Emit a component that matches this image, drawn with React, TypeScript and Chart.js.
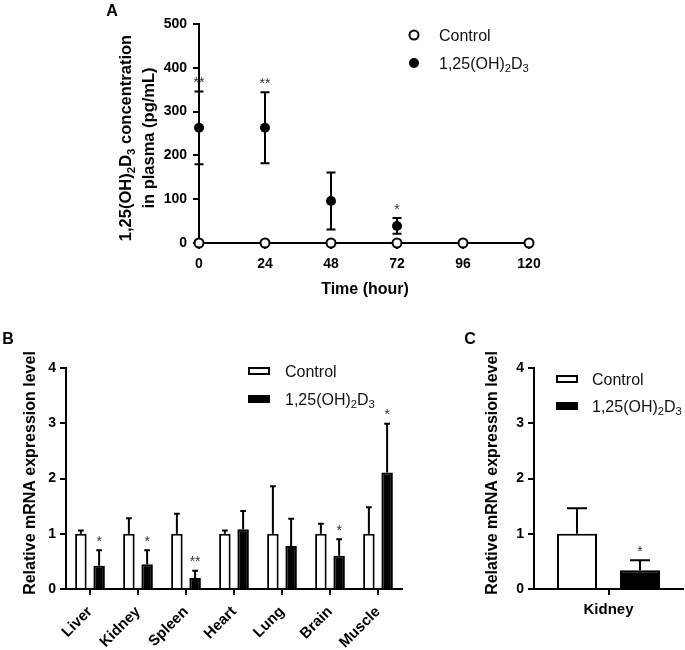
import React, { useEffect, useRef } from 'react';
import { Chart, registerables } from 'chart.js';

Chart.register(...registerables);

const FONT = '"Liberation Sans", Arial, Helvetica, sans-serif';
const INK = '#000000';

// ---------- Panel A: plasma concentration ----------
const timeHours = [0, 24, 48, 72, 96, 120];
const controlConc = [0, 0, 0, 0, 0, 0];
const treatedHours = [0, 24, 48, 72];
const treatedConc = [263, 263, 96, 39];
const treatedConcSD = [83, 81, 65, 18];
const treatedConcSig = ['**', '**', '', '*'];
const concTitle = ['1,25(OH)₂D₃ concentration', 'in plasma (pg/mL)'];
const timeTitle = 'Time (hour)';

const seriesControl = 'Control';
const seriesTreated = '1,25(OH)₂D₃';

// ---------- Panel B: organs ----------
const organs = ['Liver', 'Kidney', 'Spleen', 'Heart', 'Lung', 'Brain', 'Muscle'];
const organControl = [1, 1, 1, 1, 1, 1, 1];
const organControlErr = [0.06, 0.28, 0.36, 0.06, 0.86, 0.18, 0.48];
const organTreated = [0.42, 0.45, 0.2, 1.08, 0.78, 0.6, 2.11];
const organTreatedErr = [0.28, 0.25, 0.13, 0.33, 0.49, 0.3, 0.88];
const organSig = ['*', '*', '**', '', '', '*', '*'];

// ---------- Panel C: kidney ----------
const kidneyLabels = ['Kidney'];
const kidneyControl = [1.0];
const kidneyControlErr = [0.46];
const kidneyTreated = [0.34];
const kidneyTreatedErr = [0.18];
const kidneySig = ['*'];

const mrnaTitle = 'Relative mRNA expression level';

// ---------- rich text helpers ----------
const SUB_MAP: Record<string, string> = {
  '₀': '0', '₁': '1', '₂': '2', '₃': '3', '₄': '4', '₅': '5', '₆': '6', '₇': '7', '₈': '8', '₉': '9',
};
type Run = { t: string; sub: boolean };
function toRuns(text: string): Run[] {
  const out: Run[] = [];
  for (const ch of text) {
    const sub = ch in SUB_MAP;
    const c = sub ? SUB_MAP[ch] : ch;
    const last = out[out.length - 1];
    if (last && last.sub === sub) last.t += c;
    else out.push({ t: c, sub });
  }
  return out;
}
const fontStr = (size: number, weight: string) => `${weight} ${size}px ${FONT}`;
function drawRich(
  ctx: CanvasRenderingContext2D, text: string, x: number, y: number,
  size: number, weight: string, align: 'left' | 'center' | 'right', color: string,
) {
  const runs = toRuns(text);
  const subSize = size * 0.7;
  let total = 0;
  const widths = runs.map((r) => {
    ctx.font = fontStr(r.sub ? subSize : size, weight);
    const w = ctx.measureText(r.t).width;
    total += w;
    return w;
  });
  let cx = align === 'left' ? x : align === 'center' ? x - total / 2 : x - total;
  const base = y + size * 0.36;
  ctx.fillStyle = color;
  ctx.textAlign = 'left';
  ctx.textBaseline = 'alphabetic';
  runs.forEach((r, i) => {
    ctx.font = fontStr(r.sub ? subSize : size, weight);
    ctx.fillText(r.t, cx, r.sub ? base + size * 0.22 : base);
    cx += widths[i];
  });
}

// ---------- plugins ----------
type TextSpec = { text: string; x: number; y: number; size: number; weight: string; rotate?: boolean };
function textPlugin(specs: TextSpec[]) {
  return {
    id: 'panelTexts',
    afterDraw(chart: any) {
      const ctx: CanvasRenderingContext2D = chart.ctx;
      ctx.save();
      specs.forEach((s) => {
        if (s.rotate) {
          ctx.save();
          ctx.translate(s.x, s.y);
          ctx.rotate(-Math.PI / 2);
          drawRich(ctx, s.text, 0, 0, s.size, s.weight, 'center', INK);
          ctx.restore();
        } else {
          drawRich(ctx, s.text, s.x, s.y, s.size, s.weight, 'center', INK);
        }
      });
      ctx.restore();
    },
  };
}

type LegendSpec = { dataset: number; marker: 'openCircle' | 'dot' | 'openBox' | 'solidBox'; x: number; y: number; textX: number };
function legendPlugin(items: LegendSpec[], size: number) {
  return {
    id: 'customLegend',
    afterDraw(chart: any) {
      const ctx: CanvasRenderingContext2D = chart.ctx;
      ctx.save();
      items.forEach((it) => {
        const label = chart.data.datasets[it.dataset].label as string;
        ctx.lineWidth = 2;
        ctx.strokeStyle = INK;
        if (it.marker === 'openCircle') {
          ctx.beginPath();
          ctx.arc(it.x, it.y, 4.5, 0, Math.PI * 2);
          ctx.fillStyle = '#fff';
          ctx.fill();
          ctx.stroke();
        } else if (it.marker === 'dot') {
          ctx.beginPath();
          ctx.arc(it.x, it.y, 5, 0, Math.PI * 2);
          ctx.fillStyle = INK;
          ctx.fill();
        } else if (it.marker === 'openBox') {
          ctx.fillStyle = '#fff';
          ctx.fillRect(it.x - 10, it.y - 3, 20, 6);
          ctx.strokeRect(it.x - 10, it.y - 3, 20, 6);
        } else {
          ctx.fillStyle = INK;
          ctx.fillRect(it.x - 11, it.y - 4, 22, 8);
        }
        drawRich(ctx, label, it.textX, it.y, size, 'normal', 'left', '#111');
      });
      ctx.restore();
    },
  };
}

type ErrSpec = { dataset: number; err: number[]; both: boolean; cap?: number };
function errorBarPlugin(layer: 'before' | 'after', specs: ErrSpec[]) {
  const draw = (chart: any) => {
    const ctx: CanvasRenderingContext2D = chart.ctx;
    const ys = chart.scales.y;
    ctx.save();
    ctx.strokeStyle = INK;
    ctx.lineWidth = 2;
    specs.forEach((s) => {
      const meta = chart.getDatasetMeta(s.dataset);
      const data = chart.data.datasets[s.dataset].data;
      meta.data.forEach((el: any, j: number) => {
        const e = s.err[j];
        if (!e) return;
        const v = data[j];
        const val = typeof v === 'number' ? v : v.y;
        const yT = ys.getPixelForValue(val + e);
        const yB = ys.getPixelForValue(s.both ? val - e : val);
        const half = (s.cap ?? el.width / 2) / 2;
        ctx.beginPath();
        ctx.moveTo(el.x, yB);
        ctx.lineTo(el.x, yT);
        ctx.moveTo(el.x - half, yT);
        ctx.lineTo(el.x + half, yT);
        if (s.both) {
          ctx.moveTo(el.x - half, yB);
          ctx.lineTo(el.x + half, yB);
        }
        ctx.stroke();
      });
    });
    ctx.restore();
  };
  return layer === 'before'
    ? { id: 'errBefore', beforeDatasetsDraw: draw }
    : { id: 'errAfter', afterDatasetsDraw: draw };
}

function starsPlugin(dataset: number, err: number[], sig: string[], size = 14, gap = 13) {
  return {
    id: 'stars',
    afterDatasetsDraw(chart: any) {
      const ctx: CanvasRenderingContext2D = chart.ctx;
      const ys = chart.scales.y;
      const meta = chart.getDatasetMeta(dataset);
      const data = chart.data.datasets[dataset].data;
      ctx.save();
      ctx.font = fontStr(size, 'normal');
      ctx.textAlign = 'center';
      ctx.textBaseline = 'alphabetic';
      ctx.fillStyle = '#333';
      meta.data.forEach((el: any, j: number) => {
        const s = sig[j];
        if (!s) return;
        const v = data[j];
        const val = typeof v === 'number' ? v : v.y;
        const center = ys.getPixelForValue(val + err[j]) - gap;
        ctx.fillText(s, el.x, center + size * 0.62);
      });
      ctx.restore();
    },
  };
}

const axisBase = (size: number) => ({
  border: { display: true, color: INK, width: 2 },
  grid: { display: true, drawOnChartArea: false, drawTicks: true, tickLength: 6, color: INK, lineWidth: 2 },
  ticks: { color: INK, font: { family: FONT, size, weight: 'bold' as const } },
});

function configA(): any {
  const xb = axisBase(14);
  const yb = axisBase(14);
  return {
    type: 'line',
    data: {
      datasets: [
        {
          label: seriesControl,
          data: timeHours.map((t, i) => ({ x: t, y: controlConc[i] })),
          borderColor: INK, borderWidth: 2, showLine: true,
          pointRadius: 4.5, pointBorderWidth: 2, pointBackgroundColor: '#fff', pointBorderColor: INK,
          clip: false, order: 0,
        },
        {
          label: seriesTreated,
          data: treatedHours.map((t, i) => ({ x: t, y: treatedConc[i] })),
          borderColor: INK, showLine: false,
          pointRadius: 5, pointBorderWidth: 0, pointBackgroundColor: INK, pointBorderColor: INK,
          clip: false, order: 1,
        },
      ],
    },
    options: {
      responsive: false, animation: false, events: [],
      layout: { padding: { left: 0, right: 156, top: 24, bottom: 0 } },
      plugins: { legend: { display: false }, tooltip: { enabled: false } },
      scales: {
        x: {
          type: 'linear', min: 0, max: 120, ...xb,
          ticks: { ...xb.ticks, stepSize: 24, padding: 7, maxRotation: 0 },
          afterFit: (s: any) => { s.height = 67; },
        },
        y: {
          type: 'linear', min: 0, max: 500, ...yb,
          ticks: { ...yb.ticks, stepSize: 100, padding: 6 },
          afterFit: (s: any) => { s.width = 199; },
        },
      },
    },
    plugins: [
      errorBarPlugin('before', [{ dataset: 1, err: treatedConcSD, both: true, cap: 9 }]),
      starsPlugin(1, treatedConcSD, treatedConcSig),
      legendPlugin([
        { dataset: 0, marker: 'openCircle', x: 414, y: 35, textX: 439 },
        { dataset: 1, marker: 'dot', x: 414, y: 63, textX: 439 },
      ], 16),
      textPlugin([
        { text: 'A', x: 112, y: 10, size: 16, weight: 'bold' },
        { text: concTitle[0], x: 125, y: 138, size: 16.5, weight: 'bold', rotate: true },
        { text: concTitle[1], x: 148, y: 138, size: 16.5, weight: 'bold', rotate: true },
        { text: timeTitle, x: 365, y: 288, size: 16, weight: 'bold' },
      ]),
    ],
  };
}

function barConfig(opts: {
  labels: string[]; ctrl: number[]; ctrlErr: number[]; trt: number[]; trtErr: number[]; sig: string[];
  catPct: number; barPct: number; yWidth: number; padRight: number; rotate: boolean; letter: string;
  letterX: number; titleX: number; legend: LegendSpec[];
}): any {
  const xb = axisBase(15);
  const yb = axisBase(14);
  return {
    type: 'bar',
    data: {
      labels: opts.labels,
      datasets: [
        {
          label: seriesControl, data: opts.ctrl, backgroundColor: '#fff', borderColor: INK, borderWidth: 2,
          categoryPercentage: opts.catPct, barPercentage: opts.barPct,
        },
        {
          label: seriesTreated, data: opts.trt, backgroundColor: INK, borderColor: INK, borderWidth: 2,
          categoryPercentage: opts.catPct, barPercentage: opts.barPct,
        },
      ],
    },
    options: {
      responsive: false, animation: false, events: [],
      layout: { padding: { left: 0, right: opts.padRight, top: 48, bottom: 0 } },
      plugins: { legend: { display: false }, tooltip: { enabled: false } },
      scales: {
        x: {
          type: 'category', offset: true, ...xb,
          grid: { ...xb.grid, offset: false },
          ticks: {
            ...xb.ticks,
            minRotation: opts.rotate ? 45 : 0, maxRotation: opts.rotate ? 45 : 0,
            padding: opts.rotate ? 8 : 6, autoSkip: false,
          },
          afterFit: (s: any) => { s.height = 61; },
        },
        y: {
          type: 'linear', min: 0, max: 4, ...yb,
          ticks: { ...yb.ticks, stepSize: 1, padding: 4 },
          afterFit: (s: any) => { s.width = opts.yWidth; },
        },
      },
    },
    plugins: [
      errorBarPlugin('after', [
        { dataset: 0, err: opts.ctrlErr, both: false },
        { dataset: 1, err: opts.trtErr, both: false },
      ]),
      starsPlugin(1, opts.trtErr, opts.sig),
      legendPlugin(opts.legend, 16),
      textPlugin([
        { text: opts.letter, x: opts.letterX, y: 18, size: 16, weight: 'bold' },
        { text: mrnaTitle, x: opts.titleX, y: 153, size: 16, weight: 'bold', rotate: true },
      ]),
    ],
  };
}

export default function App() {
  const aRef = useRef<HTMLCanvasElement>(null);
  const bRef = useRef<HTMLCanvasElement>(null);
  const cRef = useRef<HTMLCanvasElement>(null);

  useEffect(() => {
    const charts = [
      new Chart(aRef.current!, configA()),
      new Chart(bRef.current!, barConfig({
        labels: organs, ctrl: organControl, ctrlErr: organControlErr, trt: organTreated, trtErr: organTreatedErr,
        sig: organSig, catPct: 0.76, barPct: 0.63, yWidth: 66, padRight: 58, rotate: true,
        letter: 'B', letterX: 8, titleX: 29,
        legend: [
          { dataset: 0, marker: 'openBox', x: 259, y: 51, textX: 285 },
          { dataset: 1, marker: 'solidBox', x: 259, y: 79, textX: 285 },
        ],
      })),
      new Chart(cRef.current!, barConfig({
        labels: kidneyLabels, ctrl: kidneyControl, ctrlErr: kidneyControlErr, trt: kidneyTreated, trtErr: kidneyTreatedErr,
        sig: kidneySig, catPct: 0.846, barPct: 0.635, yWidth: 74, padRight: 2, rotate: false,
        letter: 'C', letterX: 10, titleX: 31,
        legend: [
          { dataset: 0, marker: 'openBox', x: 107, y: 59, textX: 132 },
          { dataset: 1, marker: 'solidBox', x: 107, y: 86, textX: 132 },
        ],
      })),
    ];
    return () => charts.forEach((c) => c.destroy());
  }, []);

  return (
    <div style={{ position: 'absolute', left: 0, top: 0, width: 685, height: 650, background: '#fff' }}>
      <canvas ref={aRef} width={685} height={310} style={{ position: 'absolute', left: 0, top: 0 }} />
      <canvas ref={bRef} width={460} height={330} style={{ position: 'absolute', left: 0, top: 320 }} />
      <canvas ref={cRef} width={225} height={330} style={{ position: 'absolute', left: 460, top: 320 }} />
    </div>
  );
}
